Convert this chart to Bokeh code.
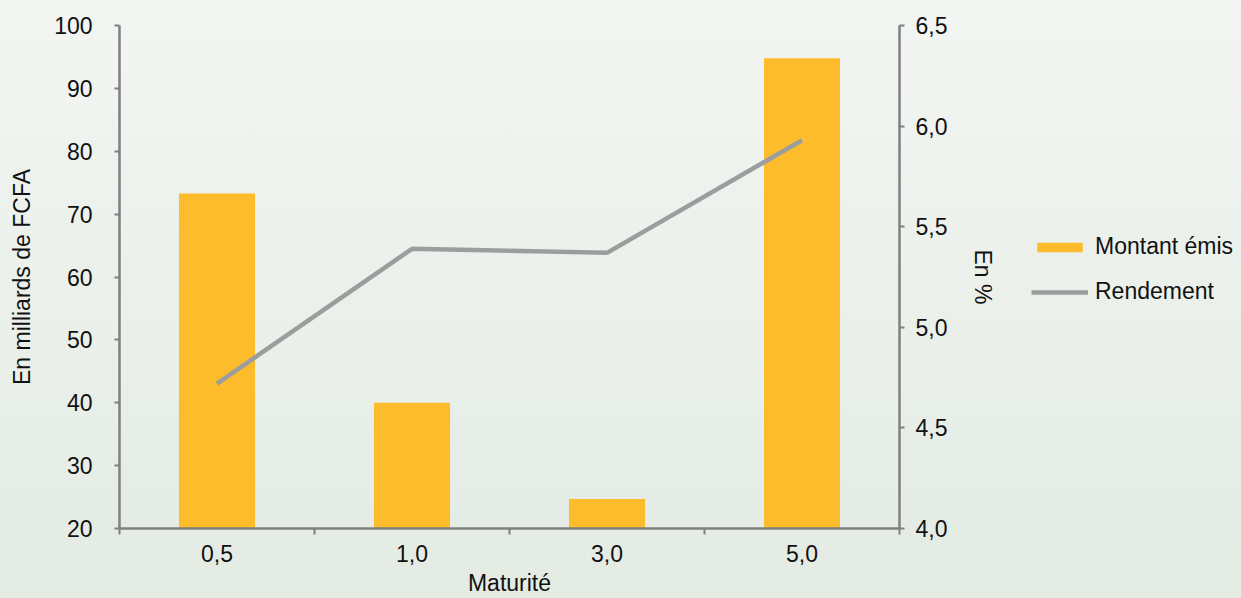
from bokeh.plotting import figure
from bokeh.layouts import row
from bokeh.models import (LinearAxis, Range1d, FixedTicker, ColumnDataSource,
                          Legend, LegendItem)
from bokeh.embed import file_html
from bokeh.resources import INLINE

# Maturity buckets (years), amount issued (bn FCFA) and yield (%)
maturites = ["0,5", "1,0", "3,0", "5,0"]
montant_emis = [73.3, 40.0, 24.7, 94.8]
rendement = [4.72, 5.39, 5.37, 5.93]

left_ticks = [20, 30, 40, 50, 60, 70, 80, 90, 100]
right_ticks = [4.0, 4.5, 5.0, 5.5, 6.0, 6.5]

FONT = "Liberation Sans"
FS = "23px"
AXIS_COLOR = "#7f8081"
BG_GRADIENT = "linear-gradient(to bottom, #f3f5f2 0%, #ebf0eb 50%, #e3ebe3 100%)"
BAR_COLOR = "#fcbc2b"
LINE_COLOR = "#9c9e9e"

xpos = [i + 0.5 for i in range(len(maturites))]
src = ColumnDataSource(dict(x=xpos, montant=montant_emis, rdt=rendement))

p = figure(width=1000, height=598, output_backend="svg", toolbar_location=None,
           x_range=Range1d(0, len(maturites)), y_range=Range1d(20, 100),
           min_border_left=119, min_border_right=101, min_border_top=25,
           min_border_bottom=69)
p.extra_y_ranges = {"pct": Range1d(4.0, 6.5)}

# transparent figure so the page gradient shows through
p.background_fill_alpha = 0
p.border_fill_alpha = 0
p.outline_line_color = None
p.xgrid.visible = False
p.ygrid.visible = False

bar_style = dict(fill_color=BAR_COLOR, line_color=None)
line_style = dict(line_color=LINE_COLOR, line_width=4.5)

p.vbar(x="x", top="montant", bottom=20, width=0.39, source=src, **bar_style)
p.line(x="x", y="rdt", source=src, y_range_name="pct", **line_style)

def style_axis(ax):
    ax.axis_line_color = AXIS_COLOR
    ax.axis_line_width = 2.5
    ax.major_tick_line_color = AXIS_COLOR
    ax.major_tick_line_width = 2
    ax.minor_tick_line_color = AXIS_COLOR
    ax.minor_tick_line_width = 2
    ax.major_tick_in = 0
    ax.minor_tick_in = 0
    ax.minor_tick_out = 0
    ax.major_tick_out = 5
    ax.major_label_text_font = FONT
    ax.major_label_text_font_size = FS
    ax.major_label_text_color = "#111111"
    ax.axis_label_text_font = FONT
    ax.axis_label_text_font_size = FS
    ax.axis_label_text_font_style = "normal"
    ax.axis_label_text_color = "#111111"

# x axis: labels at bar centres, ticks on category boundaries
xa = p.xaxis[0]
style_axis(xa)
xa.ticker = FixedTicker(ticks=xpos, minor_ticks=list(range(len(maturites) + 1)))
xa.major_label_overrides = {x: m for x, m in zip(xpos, maturites)}
xa.major_tick_out = 0
xa.minor_tick_out = 6
xa.major_label_standoff = 10
xa.axis_label = "Maturité"
xa.axis_label_standoff = 5

ya = p.yaxis[0]
style_axis(ya)
ya.ticker = FixedTicker(ticks=left_ticks)
ya.major_label_standoff = 22
ya.axis_label = "En milliards de FCFA"
ya.axis_label_standoff = 16

yr = LinearAxis(y_range_name="pct")
style_axis(yr)
yr.ticker = FixedTicker(ticks=right_ticks)
yr.major_label_overrides = {t: f"{t:.1f}".replace(".", ",") for t in right_ticks}
yr.major_label_standoff = 11
yr.axis_label = "En %"
yr.axis_label_standoff = 20
p.add_layout(yr, "right")

# Side panel holding the legend; its keys are the same series drawn
# outside this panel's visible ranges
leg = figure(width=241, height=598, output_backend="svg", toolbar_location=None,
             x_range=Range1d(-20, -10), y_range=Range1d(-20, -10),
             min_border=0, outline_line_color=None)
leg.axis.visible = False
leg.grid.visible = False
leg.background_fill_alpha = 0
leg.border_fill_alpha = 0
key_bar = leg.vbar(x="x", top="montant", width=0.39, source=src, **bar_style)
key_line = leg.line(x="x", y="rdt", source=src, **line_style)

legend = Legend(items=[LegendItem(label="Montant émis", renderers=[key_bar]),
                       LegendItem(label="Rendement", renderers=[key_line])],
                location=(31, 223), orientation="vertical",
                glyph_width=57, glyph_height=12, label_height=20,
                label_standoff=7, spacing=18, padding=0, margin=0,
                border_line_color=None, background_fill_alpha=0,
                label_text_font=FONT, label_text_font_size=FS,
                label_text_color="#111111")
leg.add_layout(legend, "center")

layout = row(p, leg, spacing=0, styles={"background": BG_GRADIENT})
open("out.html", "w").write(file_html(layout, INLINE))
